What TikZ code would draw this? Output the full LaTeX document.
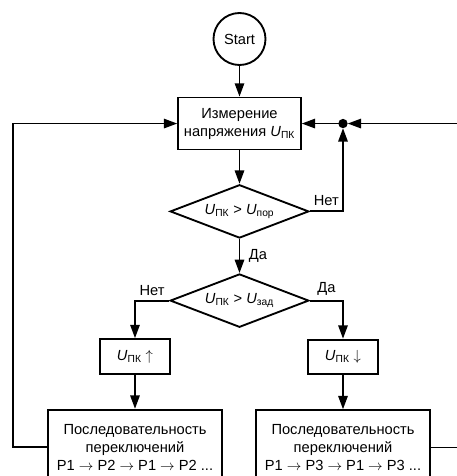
\documentclass[tikz,border=0pt]{standalone}
\usepackage{fontspec}
\setmainfont{Liberation Sans}
\usetikzlibrary{positioning,shapes.geometric,arrows.meta}
\tikzstyle{flowchart}=[
    -{Triangle[length=10pt,width=7pt]}, line width=1.4pt,
    x=0.75pt, y=-0.75pt,
    every node/.style={
        align=center,
        font=\fontsize{11}{13.5}\selectfont,
    },
    terminal/.style={
        circle, draw, minimum size=39pt, inner sep=0pt,
    },
    block/.style={
        rectangle, draw, minimum width=92pt, minimum height=39pt,
    },
    decision/.style={
        diamond, draw, aspect=2.6, minimum width=104pt, minimum height=40pt, inner sep=0pt,
    },
    small block/.style={
        rectangle, draw, minimum width=52.5pt, minimum height=26pt,
    },
    seq block/.style={
        rectangle, draw, minimum width=131pt, minimum height=56pt,
    }]
\newcommand{\Uind}[1]{\textit{U}\textsubscript{#1}}
\newcommand{\seqlabel}[2]{Последовательность\\переключений\\P1 $\rightarrow$ P#1 $\rightarrow$ P1 $\rightarrow$ P#2 ...}

\begin{document}
\begin{tikzpicture}[flowchart]
        \clip (0,0) rectangle (457,476);
        \node[terminal] (start) at (239.5,39) {Start};
        \node[block, below=23pt of start] (meas) {Измерение\\напряжения \Uind{ПК}};
        \node[decision, below=25pt of meas] (cmp1) {\Uind{ПК} > \Uind{пор}};
        \node[decision, below=25.5pt of cmp1] (cmp2) {\Uind{ПК} > \Uind{зад}};
        \node[small block] (up) at (135,356.5) {\Uind{ПК} $\uparrow$};
        \node[small block] (down) at (343,357) {\Uind{ПК} $\downarrow$};
        \node[seq block, below=25.5pt of up] (seq1) {\seqlabel{2}{2}};
        \node[seq block, below=25.5pt of down] (seq2) {\seqlabel{3}{3}};
        \coordinate (dot) at (meas.east -| down);

        \draw (start) -- (meas);
        \draw (meas) -- (cmp1);
        \draw (cmp1) -- node[right, xshift=3pt] {Да} (cmp2);
        \draw (cmp2.west) -- node[above] {Нет} (cmp2.west -| up) -- (up);
        \draw (cmp2.east) -- node[above] {Да} (cmp2.east -| down) -- (down);
        \draw (up) -- (seq1);
        \draw (down) -- (seq2);
        \draw[shorten >=3.5pt] (cmp1.east) -- node[above] {Нет} (cmp1.east -| dot) -- (dot);
        \draw[shorten >=3.5pt] (seq2.east) -- ++(40,0) |- (dot);
        \draw (dot) -- (meas.east);
        \draw (seq1.west) -- ++(-34,0) |- (meas.west);
        \fill (dot) circle (3.5pt);
    \end{tikzpicture}
\end{document}
